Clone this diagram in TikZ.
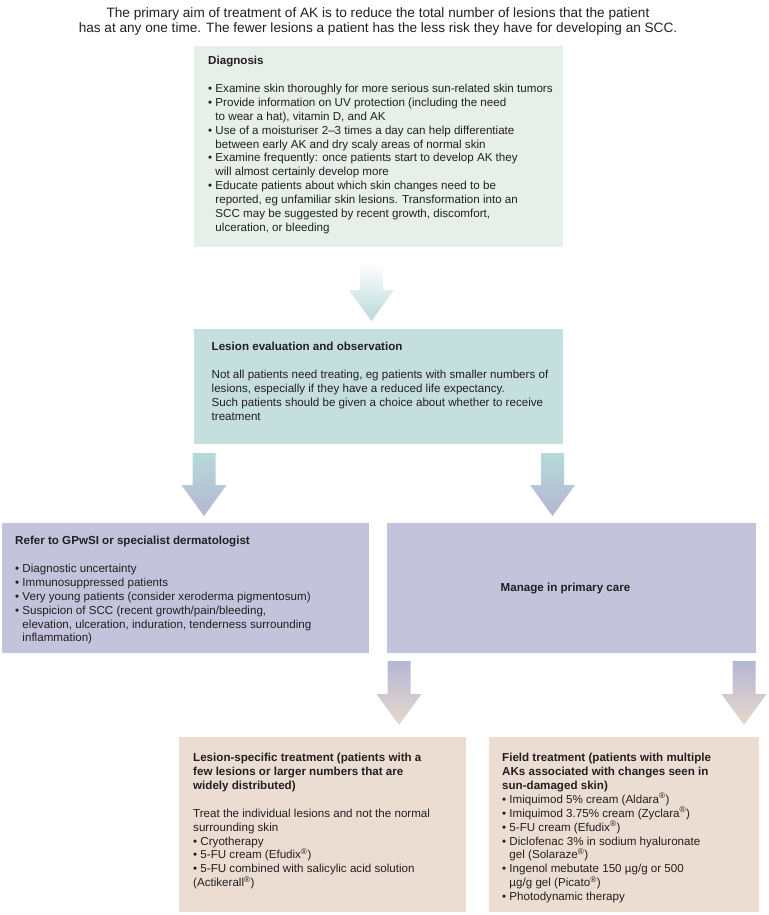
\documentclass[tikz,border=0pt]{standalone}
\usepackage{fontspec}
\setmainfont{Liberation Sans}
\usetikzlibrary{calc}
\definecolor{txt}{HTML}{231F20}
\definecolor{diagc}{HTML}{E7EFEB}
\definecolor{evalc}{HTML}{C4DFDD}
\definecolor{lavc}{HTML}{C3C3DC}
\definecolor{beigec}{HTML}{EBDDD2}
\definecolor{arA}{HTML}{B9D9DA}
\definecolor{arB}{HTML}{B6DAD9}
\definecolor{arC}{HTML}{B5B6D1}
\definecolor{arD}{HTML}{B4B7D4}
\definecolor{arE}{HTML}{E8D8CC}
\newcommand\ind{\hphantom{•}\ }
\newcommand\reg{\textsuperscript{®}}
\newcommand\blockarrow[4]{\shade[top color=#3,bottom color=#4]
 ($(#1)+(-11.5,0)$) -- ($(#1)+(11.5,0)$) -- ($(#2)+(11.5,-31)$) -- ($(#2)+(22.5,-31)$)
 -- (#2) -- ($(#2)+(-22.5,-31)$) -- ($(#2)+(-11.5,-31)$) -- cycle;}
\begin{document}
\begin{tikzpicture}[x=1pt,y=-1pt,
  panel/.style={draw=none,inner sep=0,outer sep=0,anchor=north west},
  txtnode/.style={anchor=north west,inner sep=0,align=left,text=txt,font=\fontsize{11.6}{13.9}\selectfont}]
\useasboundingbox (0,0) rectangle (768,915);

% title
\node[anchor=north,align=center,inner sep=0,text=txt,font=\fontsize{13.6}{15}\selectfont] (title) at (378,7)
 {The primary aim of treatment of AK is to reduce the total number of lesions that the patient\\
  has at any one time. The fewer lesions a patient has the less risk they have for developing an SCC.};

% boxes
\node[panel,fill=diagc,minimum width=369,minimum height=201] (diag) at (194,46) {};
\node[panel,fill=evalc,minimum width=369,minimum height=115] (eval) at (194,329) {};
\node[panel,fill=lavc,minimum width=367,minimum height=130] (refer) at (2,523) {};
\node[panel,fill=lavc,minimum width=369,minimum height=130] (manage) at (387,523) {};
\node[panel,fill=beigec,minimum width=287,minimum height=175] (lesion) at (179,737) {};
\node[panel,fill=beigec,minimum width=270,minimum height=175] (field) at (489,737) {};

% arrows
\coordinate (a1s) at ($(diag.south)+(-7,15)$);
\coordinate (a1e) at ($(eval.north)+(-7,-8)$);
\coordinate (a2ls) at ($(eval.south west)+(10,9)$);
\coordinate (a2le) at ($(refer.north)+(18.5,-7)$);
\coordinate (a2rs) at ($(eval.south east)+(-10.5,9)$);
\coordinate (a2re) at ($(manage.north)+(-19,-7)$);
\coordinate (a3ls) at ($(manage.south west)+(12,8)$);
\coordinate (a3le) at ($(lesion.north east)+(-67,-12)$);
\coordinate (a3rs) at ($(manage.south east)+(-12,8)$);
\coordinate (a3re) at ($(field.north east)+(-15,-12)$);
\blockarrow{a1s}{a1e}{white}{arA}
\blockarrow{a2ls}{a2le}{arB}{arC}
\blockarrow{a2rs}{a2re}{arB}{arC}
\blockarrow{a3ls}{a3le}{arD}{arE}
\blockarrow{a3rs}{a3re}{arD}{arE}

% texts
\node[txtnode] (diagt) at (208,56) {\textbf{Diagnosis}\\[13.9pt]
• Examine skin thoroughly for more serious sun-related skin tumors\\
• Provide information on UV protection (including the need\\
\ind to wear a hat), vitamin D, and AK\\
• Use of a moisturiser 2–3 times a day can help differentiate\\
\ind between early AK and dry scaly areas of normal skin\\
• Examine frequently: once patients start to develop AK they\\
\ind will almost certainly develop more\\
• Educate patients about which skin changes need to be\\
\ind reported, eg unfamiliar skin lesions. Transformation into an\\
\ind SCC may be suggested by recent growth, discomfort,\\
\ind ulceration, or bleeding};

\node[txtnode] (evalt) at (211.5,342) {\textbf{Lesion evaluation and observation}\\[13.9pt]
Not all patients need treating, eg patients with smaller numbers of\\
lesions, especially if they have a reduced life expectancy.\\
Such patients should be given a choice about whether to receive\\
treatment};

\node[txtnode] (refert) at (15,536) {\textbf{Refer to GPwSI or specialist dermatologist}\\[13.9pt]
• Diagnostic uncertainty\\
• Immunosuppressed patients\\
• Very young patients (consider xeroderma pigmentosum)\\
• Suspicion of SCC (recent growth/pain/bleeding,\\
\ind elevation, ulceration, induration, tenderness surrounding\\
\ind inflammation)};

\node[inner sep=0,text=txt,font=\fontsize{11.6}{13.9}\selectfont\bfseries] (managet) at ($(manage.center)+(-6,1)$) {Manage in primary care};

\node[txtnode] (lesiont) at (193,753) {\textbf{Lesion-specific treatment (patients with a}\\
\textbf{few lesions or larger numbers that are}\\
\textbf{widely distributed)}\\[13.9pt]
Treat the individual lesions and not the normal\\
surrounding skin\\
• Cryotherapy\\
• 5-FU cream (Efudix\reg)\\
• 5-FU combined with salicylic acid solution\\
(Actikerall\reg)};

\node[txtnode] (fieldt) at (502,753) {\textbf{Field treatment (patients with multiple}\\
\textbf{AKs associated with changes seen in}\\
\textbf{sun-damaged skin)}\\
• Imiquimod 5\% cream (Aldara\reg)\\
• Imiquimod 3.75\% cream (Zyclara\reg)\\
• 5-FU cream (Efudix\reg)\\
• Diclofenac 3\% in sodium hyaluronate\\
\ind gel (Solaraze\reg)\\
• Ingenol mebutate 150 µg/g or 500\\
\ind µg/g gel (Picato\reg)\\
• Photodynamic therapy};
\end{tikzpicture}
\end{document}
